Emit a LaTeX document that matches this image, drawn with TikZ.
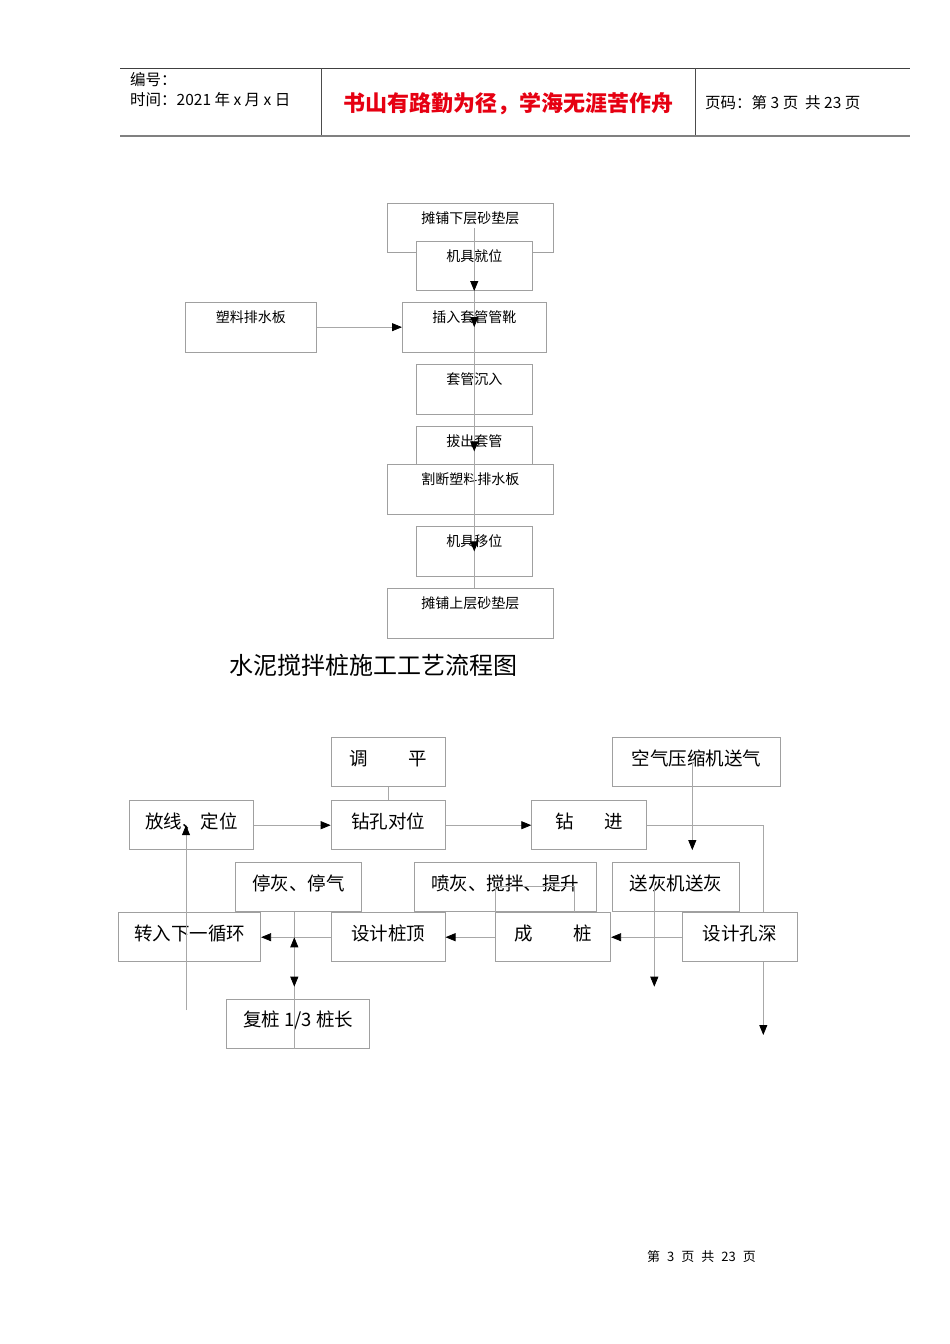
\documentclass[tikz,border=0pt]{standalone}
\usepackage{fontspec}
\setmainfont{Noto Sans CJK SC}
\usepackage{tikz}
\usetikzlibrary{arrows.meta}

\definecolor{boxgray}{HTML}{A0A0A0}
\definecolor{linegray}{HTML}{A8A8A8}
\definecolor{mottored}{HTML}{E60012}

\begin{document}
\begin{tikzpicture}[x=1pt,y=-1pt,
    tbox/.style={draw=boxgray, fill=white, line width=0.8pt, inner sep=0pt, anchor=north west,
                 font=\fontsize{14pt}{16pt}\selectfont, text height=20pt, text depth=29.5pt},
    bbox/.style={draw=boxgray, fill=white, line width=0.8pt, inner sep=0pt, anchor=north west,
                 font=\fontsize{18.5pt}{20pt}\selectfont, text height=27.5pt, text depth=21.5pt},
    hd/.style={anchor=base west, inner sep=0pt, font=\fontsize{15.5pt}{17pt}\selectfont},
    ln/.style={draw=linegray, line width=0.8pt},
    arr/.style={ln, -{Triangle[width=8pt,length=10pt,color=black]}},
    darr/.style={ln, {Triangle[width=8pt,length=10pt,color=black]}-{Triangle[width=8pt,length=10pt,color=black]}}]
                \useasboundingbox[fill=white] (0,0) rectangle (950,1344);

                % header
                \draw[draw=black!75, line width=0.8pt] (120,68) -- (910,68);
                \draw[draw=black!50, line width=2pt] (120,135.5) -- (910,135.5);
                \draw[draw=black!70, line width=0.8pt] (321,68) -- (321,135);
                \draw[draw=black!70, line width=0.8pt] (695,68) -- (695,135);
                \node(bianhao) [hd] at (130,85) {编号：};
                \node(shijian) [hd] at (130,105) {时间：2021 年 x 月 x 日};
                \node(motto) [anchor=base, inner sep=0pt, text=mottored, font=\fontsize{22pt}{24pt}\selectfont\bfseries] at (508.5,111.5) {书山有路勤为径，学海无涯苦作舟};
                \node(yema) [hd] at (705,108.7) {页码：第 3 页\ \ 共 23 页};

                % plastic drain board flow
                \node(xia) [tbox, minimum width=166.3pt] at (386.7,202.7) {摊铺下层砂垫层};
                \node(jiuwei) [tbox, minimum width=115.7pt] at (416,240.7) {机具就位};
                \node(suliao) [tbox, minimum width=130.7pt] at (185,302) {塑料排水板};
                \node(charu) [tbox, minimum width=143.7pt] at (402,302) {插入套管管靴};
                \node(chenru) [tbox, minimum width=115.7pt] at (416,364.3) {套管沉入};
                \node(bachu) [tbox, minimum width=115.7pt] at (416,426.3) {拔出套管};
                \node(geduan) [tbox, minimum width=166.3pt] at (386.7,464) {割断塑料排水板};
                \node(yiwei) [tbox, minimum width=115.7pt] at (416,526.3) {机具移位};
                \node(shang) [tbox, minimum width=166.3pt] at (386.7,588.3) {摊铺上层砂垫层};

                \draw[ln] (xia.center -| jiuwei.center) -- (shang.north -| jiuwei.center);
                \draw[arr] (jiuwei.center) -- (jiuwei.south);
                \draw[arr] (charu.north) -- (charu.center);
                \draw[arr] (bachu.north) -- (bachu.center);
                \draw[arr] (yiwei.north) -- (yiwei.center);
                \draw[arr] (suliao.east) -- (charu.west);

                % title
                \node(biaoti) [anchor=base west, inner sep=0pt, font=\fontsize{24pt}{26pt}\selectfont] at (229,674) {水泥搅拌桩施工工艺流程图};

                % cement mixing pile flow
                \node(tiaoping) [bbox, minimum width=114pt] at (330.7,737.3) {调\hspace{40pt}平};
                \node(kongqi) [bbox, minimum width=168pt] at (612.3,737.3) {空气压缩机送气};
                \node(fangxian) [bbox, minimum width=123.4pt] at (129.3,800.3) {放线、定位};
                \node(zuankong) [bbox, minimum width=114pt] at (330.7,800.3) {钻孔对位};
                \node(zuanjin) [bbox, minimum width=115pt] at (531.3,800.3) {钻\hspace{31pt}进};
                \node(tinghui) [bbox, minimum width=126pt] at (235.3,862.3) {停灰、停气};
                \node(penhui) [bbox, minimum width=182pt] at (413.7,862.3) {喷灰、搅拌、提升};
                \node(songhui) [bbox, minimum width=126.4pt] at (612.3,862.3) {送灰机送灰};
                \node(zhuanru) [bbox, minimum width=142pt] at (118.3,912.3) {转入下一循环};
                \node(zhuangding) [bbox, minimum width=114pt] at (330.7,912.3) {设计桩顶};
                \node(chengzhuang) [bbox, minimum width=115pt] at (495.3,912.3) {成\hspace{41pt}桩};
                \node(kongshen) [bbox, minimum width=114.4pt] at (682.3,912.3) {设计孔深};
                \node(fuzhuang) [bbox, minimum width=143.3pt] at (226,999) {复桩 1/3 桩长};

                \coordinate(qi) at (692.3,761.7);
                \coordinate(shenend) at (763.3,1035);
                \coordinate(hui) at (654.3,884);
                \coordinate(huiend) at (654.3,986.7);
                \coordinate(penmid) at (574.3,886.7);
                \coordinate(fuup) at (294.3,937.3);
                \coordinate(fudown) at (294.3,986.7);
                \coordinate(huan) at (186,1010);

                \draw[ln] (tiaoping.south) -- (zuankong.north);
                \draw[arr] (fangxian.east) -- (zuankong.west);
                \draw[arr] (zuankong.east) -- (zuanjin.west);
                \draw[arr] (qi) -- (qi |- zuanjin.south);
                \draw[ln] (zuanjin.east) -| (kongshen.north -| shenend);
                \draw[arr] (kongshen.south -| shenend) -- (shenend);
                \draw[arr] (hui) -- (huiend);
                \draw[ln] (chengzhuang.north west) |- (penmid) -- (penmid |- chengzhuang.north);
                \draw[arr] (kongshen.west) -- (chengzhuang.east);
                \draw[arr] (chengzhuang.west) -- (zhuangding.east);
                \draw[arr] (zhuangding.west) -- (zhuanru.east);
                \draw[ln] (tinghui.south -| fuup) -- (fuzhuang.south -| fuup);
                \draw[darr] (fuup) -- (fudown);
                \draw[arr] (huan) -- (huan |- fangxian.center);

                % footer
                \node(yejiao) [anchor=base, inner sep=0pt, font=\fontsize{13pt}{15pt}\selectfont] at (701.5,1261) {第\hspace{7pt}3\hspace{7pt}页\hspace{7pt}共\hspace{7pt}23\hspace{7pt}页};
            \end{tikzpicture}
\end{document}
